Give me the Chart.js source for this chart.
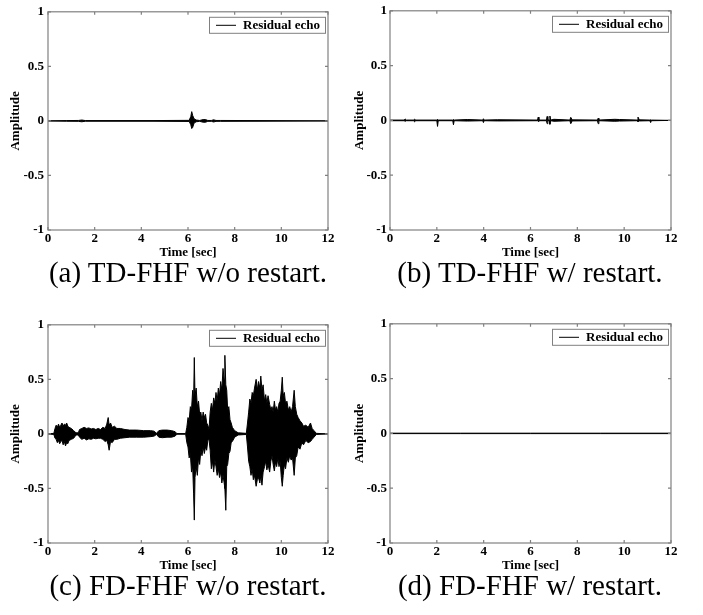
<!DOCTYPE html>
<html lang="en">
<head>
<meta charset="utf-8">
<title>Residual echo</title>
<script src="https://cdn.jsdelivr.net/npm/chart.js@4.4.1/dist/chart.umd.min.js"></script>
<style>
  body { margin: 0; background: #fff; width: 703px; height: 615px; position: relative; overflow: hidden; }
  canvas { position: absolute; }
  .cap { position: absolute; width: 300px; height: 32px; line-height: 32px; text-align: center; white-space: nowrap;
         font-family: 'Liberation Serif', 'Times New Roman', serif; font-size: 29px; color: #000; }
</style>
</head>
<body>
<canvas id="chart_a" width="350" height="262" style="left:0px;top:0px"></canvas>
<canvas id="chart_b" width="353" height="262" style="left:350px;top:0px"></canvas>
<canvas id="chart_c" width="350" height="262" style="left:0px;top:313px"></canvas>
<canvas id="chart_d" width="353" height="262" style="left:350px;top:313px"></canvas>
<div class="cap" style="left:38px;top:256px">(a) TD-FHF w/o restart.</div>
<div class="cap" style="left:380px;top:256px">(b) TD-FHF w/ restart.</div>
<div class="cap" style="left:38px;top:569px">(c) FD-FHF w/o restart.</div>
<div class="cap" style="left:380px;top:569px">(d) FD-FHF w/ restart.</div>

<script>
  // axis ticks shared by all four panels
  const xTicks = [0, 2, 4, 6, 8, 10, 12];
  const yTicks = [-1, -0.5, 0, 0.5, 1];
  const seriesLabel = "Residual echo";

  // waveform envelopes (upper / lower amplitude), time in sec
  // (a) TD-FHF w/o restart
  const timeA  = [0, 0.8, 1.3, 1.45, 1.6, 3.0, 4.5, 6.05, 6.12, 6.16, 6.2, 6.26, 6.35, 6.5, 6.65, 6.75, 6.85, 7.0, 7.1, 7.2, 7.4, 9.0, 12];
  const upperA = [0, 0.003, 0.004, 0.008, 0.003, 0.003, 0.003, 0.005, 0.04, 0.085, 0.05, 0.02, 0.008, 0.004, 0.012, 0.012, 0.004, 0.004, 0.01, 0.004, 0.004, 0.003, 0];
  const lowerA = [0, -0.003, -0.004, -0.008, -0.003, -0.003, -0.003, -0.005, -0.035, -0.07, -0.06, -0.02, -0.008, -0.004, -0.012, -0.012, -0.004, -0.004, -0.01, -0.004, -0.004, -0.003, 0];

  // (b) TD-FHF w/ restart
  const timeB  = [0, 0.6, 0.65, 0.7, 1.0, 1.05, 1.1, 2.0, 2.03, 2.06, 2.68, 2.71, 2.74, 3.3, 3.96, 3.99, 4.02, 4.6, 6.3, 6.33, 6.36,
                  6.68, 6.71, 6.74, 6.8, 6.83, 6.86, 7.0, 7.68, 7.72, 7.78, 8.86, 8.89, 8.92, 9.6, 9.8, 10.55, 10.59, 10.65, 11.1, 11.13, 11.16, 12];
  const upperB = [0.003, 0.003, 0.012, 0.003, 0.003, 0.01, 0.003, 0.003, 0.01, 0.003, 0.003, 0.008, 0.003, 0.008, 0.003, 0.015, 0.003, 0.006, 0.003, 0.03, 0.003,
                  0.003, 0.036, 0.003, 0.003, 0.04, 0.003, 0.01, 0.003, 0.028, 0.005, 0.003, 0.02, 0.003, 0.01, 0.008, 0.003, 0.03, 0.005, 0.003, 0.005, 0.003, 0];
  const lowerB = [-0.003, -0.003, -0.008, -0.003, -0.003, -0.012, -0.003, -0.003, -0.055, -0.003, -0.003, -0.04, -0.003, -0.006, -0.003, -0.02, -0.003, -0.005, -0.003, -0.01, -0.003,
                  -0.003, -0.03, -0.003, -0.003, -0.035, -0.003, -0.008, -0.003, -0.03, -0.005, -0.003, -0.03, -0.003, -0.008, -0.006, -0.003, -0.01, -0.005, -0.003, -0.02, -0.003, 0];

  // (c) FD-FHF w/o restart
  const timeC  = [0, 0.25, 0.3, 0.35, 0.4, 0.45, 0.5, 0.55, 0.6, 0.65, 0.7, 0.75, 0.8, 0.85, 0.9, 1.0, 1.1, 1.2, 1.3,
                  1.35, 1.45, 1.55, 1.65, 1.75, 1.85, 1.95, 2.05, 2.15, 2.25, 2.35, 2.45, 2.52, 2.58, 2.62, 2.68, 2.75, 2.85, 2.95,
                  3.1, 3.3, 3.5, 3.8, 4.1, 4.4, 4.55, 4.65, 4.75, 4.9, 5.1, 5.3, 5.45, 5.52, 5.9,
                  5.95, 6.0, 6.05, 6.1, 6.15, 6.2, 6.24, 6.27, 6.3, 6.35, 6.4, 6.45, 6.5, 6.55, 6.6, 6.65, 6.7, 6.75, 6.8, 6.85, 6.9,
                  6.95, 7.0, 7.05, 7.1, 7.15, 7.2, 7.25, 7.3, 7.35, 7.4, 7.45, 7.5, 7.55, 7.58, 7.62, 7.66, 7.7, 7.75, 7.8, 7.85, 7.9, 8.0, 8.15,
                  8.5, 8.55, 8.6, 8.65, 8.7, 8.75, 8.8, 8.85, 8.92, 8.97, 9.02, 9.08, 9.12, 9.17, 9.22, 9.28, 9.33, 9.38, 9.43, 9.5,
                  9.55, 9.6, 9.65, 9.7, 9.75, 9.8, 9.85, 9.9, 9.95, 10.0, 10.04, 10.08, 10.13, 10.18, 10.24, 10.3, 10.36, 10.42, 10.48,
                  10.55, 10.6, 10.66, 10.72, 10.8, 10.88, 10.95, 11.05, 11.15, 11.25, 11.32, 11.4, 11.5, 12];
  const upperC = [0, 0.005, 0.05, 0.08, 0.06, 0.09, 0.06, 0.08, 0.10, 0.07, 0.09, 0.08, 0.10, 0.07, 0.06, 0.05, 0.03, 0.01, 0.01,
                  0.04, 0.05, 0.06, 0.05, 0.055, 0.045, 0.05, 0.04, 0.05, 0.04, 0.06, 0.05, 0.09, 0.15, 0.08, 0.10, 0.06, 0.07, 0.05,
                  0.05, 0.04, 0.035, 0.035, 0.03, 0.03, 0.025, 0.005, 0.03, 0.035, 0.035, 0.03, 0.02, 0.003, 0.003,
                  0.06, 0.15, 0.12, 0.25, 0.22, 0.40, 0.30, 0.70, 0.35, 0.42, 0.25, 0.30, 0.18, 0.20, 0.12, 0.20, 0.15, 0.18, 0.10, 0.08, 0.04,
                  0.20, 0.28, 0.22, 0.33, 0.28, 0.38, 0.30, 0.42, 0.35, 0.48, 0.40, 0.60, 0.50, 0.72, 0.45, 0.40, 0.22, 0.25, 0.13, 0.10, 0.06, 0.03, 0.01,
                  0.005, 0.10, 0.20, 0.32, 0.28, 0.38, 0.35, 0.42, 0.50, 0.40, 0.48, 0.42, 0.53, 0.40, 0.45, 0.30, 0.36, 0.28, 0.35, 0.27,
                  0.22, 0.25, 0.20, 0.30, 0.22, 0.25, 0.20, 0.28, 0.30, 0.40, 0.52, 0.35, 0.38, 0.28, 0.30, 0.22, 0.25, 0.20, 0.25,
                  0.40, 0.25, 0.18, 0.15, 0.12, 0.10, 0.07, 0.08, 0.06, 0.10, 0.05, 0.03, 0.005, 0];
  const lowerC = [0, -0.005, -0.04, -0.05, -0.08, -0.06, -0.09, -0.07, -0.06, -0.10, -0.07, -0.11, -0.08, -0.09, -0.06, -0.05, -0.04, -0.01, -0.01,
                  -0.03, -0.05, -0.04, -0.055, -0.045, -0.05, -0.04, -0.045, -0.04, -0.04, -0.05, -0.07, -0.06, -0.10, -0.15, -0.07, -0.08, -0.05, -0.05,
                  -0.04, -0.035, -0.03, -0.03, -0.03, -0.025, -0.02, -0.005, -0.03, -0.035, -0.03, -0.03, -0.02, -0.003, -0.003,
                  -0.08, -0.12, -0.22, -0.18, -0.35, -0.30, -0.55, -0.79, -0.40, -0.30, -0.38, -0.22, -0.28, -0.15, -0.20, -0.12, -0.18, -0.12, -0.15, -0.06, -0.05,
                  -0.15, -0.32, -0.25, -0.35, -0.24, -0.30, -0.38, -0.32, -0.40, -0.35, -0.45, -0.38, -0.45, -0.50, -0.70, -0.30, -0.28, -0.18, -0.16, -0.08, -0.07, -0.03, -0.01,
                  -0.005, -0.12, -0.25, -0.30, -0.38, -0.32, -0.42, -0.38, -0.48, -0.42, -0.40, -0.45, -0.38, -0.47, -0.35, -0.30, -0.25, -0.33, -0.28, -0.35,
                  -0.25, -0.20, -0.28, -0.34, -0.26, -0.30, -0.22, -0.30, -0.25, -0.40, -0.48, -0.38, -0.28, -0.32, -0.22, -0.26, -0.20, -0.24, -0.22,
                  -0.38, -0.22, -0.20, -0.12, -0.14, -0.08, -0.10, -0.06, -0.08, -0.07, -0.05, -0.03, -0.005, 0];

  // (d) FD-FHF w/ restart
  const timeD  = [0, 3, 6, 9, 12];
  const upperD = [0.002, 0.002, 0.002, 0.002, 0.002];
  const lowerD = [-0.002, -0.002, -0.002, -0.002, -0.002];

  const serif = "'Liberation Serif', 'Times New Roman', serif";
  const frameColor = "#808080";

  // MATLAB-style box with inward ticks on all four sides
  const frameAndTicks = {
    id: "frameAndTicks",
    afterDatasetsDraw(chart) {
      const {ctx, chartArea: a, scales: {x, y}} = chart;
      ctx.save();
      ctx.strokeStyle = frameColor;
      ctx.lineWidth = 1.2;
      ctx.strokeRect(a.left, a.top, a.right - a.left, a.bottom - a.top);
      ctx.beginPath();
      xTicks.forEach(v => {
        const px = x.getPixelForValue(v);
        ctx.moveTo(px, a.bottom); ctx.lineTo(px, a.bottom - 3);
        ctx.moveTo(px, a.top); ctx.lineTo(px, a.top + 3);
      });
      yTicks.forEach(v => {
        const py = y.getPixelForValue(v);
        ctx.moveTo(a.left, py); ctx.lineTo(a.left + 3, py);
        ctx.moveTo(a.right, py); ctx.lineTo(a.right - 3, py);
      });
      ctx.stroke();
      ctx.restore();
    }
  };

  // boxed legend in the top right corner of the plot
  const boxLegend = {
    id: "boxLegend",
    afterDraw(chart) {
      const {ctx, chartArea: a} = chart;
      const w = 116, h = 16;
      const bx = a.right - 3 - w, by = a.top + 5;
      ctx.save();
      ctx.fillStyle = "#fff";
      ctx.fillRect(bx, by, w, h);
      ctx.strokeStyle = frameColor;
      ctx.lineWidth = 1;
      ctx.strokeRect(bx + 0.5, by + 0.5, w, h);
      ctx.strokeStyle = "#000";
      ctx.beginPath();
      ctx.moveTo(bx + 7, by + h / 2 + 0.5);
      ctx.lineTo(bx + 27, by + h / 2 + 0.5);
      ctx.stroke();
      ctx.fillStyle = "#000";
      ctx.font = "bold 13px " + serif;
      ctx.textBaseline = "middle";
      ctx.fillText(chart.data.datasets[0].label, bx + 34, by + h / 2 + 1);
      ctx.restore();
    }
  };

  function makeChart(id, time, upper, lower, yWidth, padRight, yTitlePad, yTickPad) {
    return new Chart(id, {
      type: "line",
      data: {
        datasets: [
          {
            // upper envelope, filled down to the lower one
            label: seriesLabel,
            data: time.map((t, i) => ({x: t, y: upper[i]})),
            borderColor: "#000",
            backgroundColor: "#000",
            borderWidth: 1,
            pointRadius: 0,
            tension: 0,
            fill: "+1"
          },
          {
            // lower envelope
            label: "lower",
            data: time.map((t, i) => ({x: t, y: lower[i]})),
            borderColor: "#000",
            borderWidth: 1,
            pointRadius: 0,
            tension: 0,
            fill: false
          }
        ]
      },
      options: {
        responsive: false,
        animation: false,
        devicePixelRatio: 1,
        layout: {padding: {top: 7, right: padRight, left: 0, bottom: 0}},
        plugins: {legend: {display: false}, tooltip: {enabled: false}},
        scales: {
          x: {
            type: "linear",
            min: 0,
            max: 12,
            afterBuildTicks: s => { s.ticks = xTicks.map(v => ({value: v})); },
            afterFit: s => { s.height = 32; },
            grid: {display: false, drawTicks: false},
            border: {display: false},
            ticks: {color: "#000", padding: 1, maxRotation: 0, autoSkip: false,
                    font: {family: serif, size: 13, weight: "bold"}},
            title: {display: true, text: "Time [sec]", color: "#000", padding: {top: 0, bottom: 2},
                    font: {family: serif, size: 13, weight: "bold"}}
          },
          y: {
            min: -1,
            max: 1,
            afterBuildTicks: s => { s.ticks = yTicks.map(v => ({value: v})); },
            afterFit: s => { s.width = yWidth; },
            grid: {display: false, drawTicks: false},
            border: {display: false},
            ticks: {color: "#000", padding: yTickPad, autoSkip: false, callback: v => String(v),
                    font: {family: serif, size: 13, weight: "bold"}},
            title: {display: true, text: "Amplitude", color: "#000", padding: {top: yTitlePad, bottom: 0},
                    font: {family: serif, size: 13, weight: "bold"}}
          }
        }
      },
      plugins: [frameAndTicks, boxLegend]
    });
  }

  makeChart("chart_a", timeA, upperA, lowerA, 48, 22, 8, 4);
  makeChart("chart_b", timeB, upperB, lowerB, 40, 32, 2, 3);
  makeChart("chart_c", timeC, upperC, lowerC, 48, 22, 8, 4);
  makeChart("chart_d", timeD, upperD, lowerD, 40, 32, 2, 3);
</script>
</body>
</html>
